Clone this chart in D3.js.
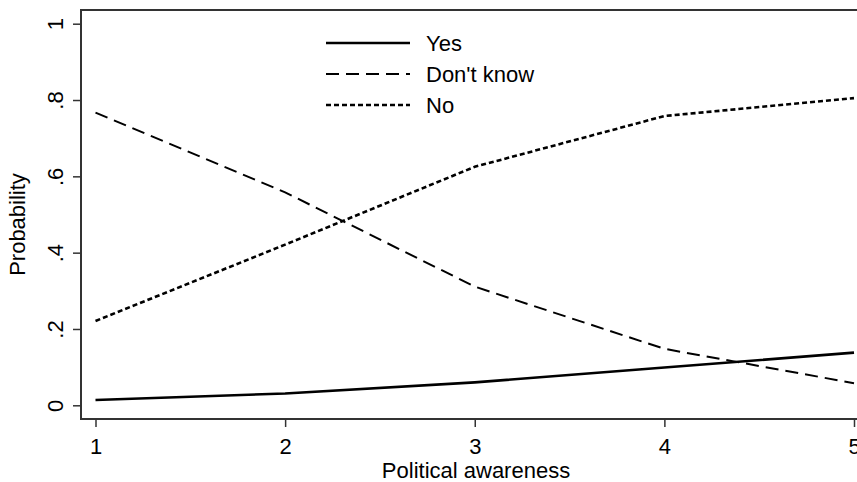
<!DOCTYPE html>
<html>
<head>
<meta charset="utf-8">
<script src="https://cdn.jsdelivr.net/npm/d3@7"></script>
<style>
  body { margin: 0; background: #fff; }
  text { font-family: "Liberation Sans", Arial, sans-serif; fill: #000; }
</style>
</head>
<body>
<div id="chart"></div>
<script>
const awareness = [1, 2, 3, 4, 5];
const yesProb = [0.014, 0.031, 0.060, 0.099, 0.138];
const dontKnowProb = [0.767, 0.558, 0.311, 0.148, 0.058];
const noProb = [0.221, 0.421, 0.625, 0.758, 0.805];
const yTicks = [0, 0.2, 0.4, 0.6, 0.8, 1];
const yTickLabels = ["0", ".2", ".4", ".6", ".8", "1"];

const series = [
	{ name: "Yes", values: yesProb, dash: null, width: 2.6 },
	{ name: "Don't know", values: dontKnowProb, dash: "13,7", width: 2 },
	{ name: "No", values: noProb, dash: "5,3", width: 2.6 }
];

const width = 857, height = 482;
const frameLeft = 81, frameTop = 10, frameBottom = 419;
const fontSize = '22px';

const x = d3.scaleLinear().domain([1, 5]).range([95.5, 854]);
const y = d3.scaleLinear().domain([0, 1]).range([405.3, 23.7]);

const svg = d3.select('#chart')
	.append('svg')
		.attr('width', width)
		.attr('height', height);

// plot region outline (right side runs off the image)
svg.append('path')
	.attr('d', `M${width + 10},${frameTop}H${frameLeft}V${frameBottom}H${width + 10}`)
	.attr('fill', 'none')
	.attr('stroke', '#333')
	.attr('stroke-width', 2);

// y axis
const yAxis = svg.append('g')
	.attr('transform', `translate(${frameLeft},0)`)
	.call(d3.axisLeft(y).tickValues(yTicks).tickSize(8).tickFormat((d, i) => yTickLabels[i]));
yAxis.select('.domain').remove();
yAxis.selectAll('.tick line').attr('stroke', '#333').attr('stroke-width', 1.5);
yAxis.selectAll('.tick text')
	.attr('transform', 'rotate(-90)')
	.attr('x', 0)
	.attr('y', -18)
	.attr('dy', 0)
	.attr('text-anchor', 'middle')
	.style('font-size', fontSize);

// x axis
const xAxis = svg.append('g')
	.attr('transform', `translate(0,${frameBottom})`)
	.call(d3.axisBottom(x).tickValues(awareness).tickSize(8).tickFormat(d3.format('d')));
xAxis.select('.domain').remove();
xAxis.selectAll('.tick line').attr('stroke', '#333').attr('stroke-width', 1.5);
xAxis.selectAll('.tick text')
	.attr('y', 35)
	.attr('dy', 0)
	.style('font-size', fontSize);

// axis titles
svg.append('text')
	.attr('x', 476)
	.attr('y', 478)
	.attr('text-anchor', 'middle')
	.style('font-size', fontSize)
	.text('Political awareness');
svg.append('text')
	.attr('transform', `translate(25,${(frameTop + frameBottom) / 2 + 10}) rotate(-90)`)
	.attr('text-anchor', 'middle')
	.style('font-size', fontSize)
	.text('Probability');

// lines
const line = d3.line()
	.x((d, i) => x(awareness[i]))
	.y(d => y(d));

svg.selectAll('.prob-line')
	.data(series).enter()
	.append('path')
		.attr('class', 'prob-line')
		.attr('d', d => line(d.values))
		.attr('fill', 'none')
		.attr('stroke', '#000')
		.attr('stroke-width', d => d.width)
		.attr('stroke-dasharray', d => d.dash);

// legend
const legend = svg.append('g').attr('class', 'legend');
const legendRow = legend.selectAll('g')
	.data(series).enter()
	.append('g')
		.attr('transform', (d, i) => `translate(326,${43 + i * 31})`);
legendRow.append('line')
	.attr('x1', 0).attr('x2', 84)
	.attr('stroke', '#000')
	.attr('stroke-width', d => d.width)
	.attr('stroke-dasharray', d => d.dash);
legendRow.append('text')
	.attr('x', 100)
	.attr('dy', '0.35em')
	.style('font-size', fontSize)
	.text(d => d.name);
</script>
</body>
</html>
